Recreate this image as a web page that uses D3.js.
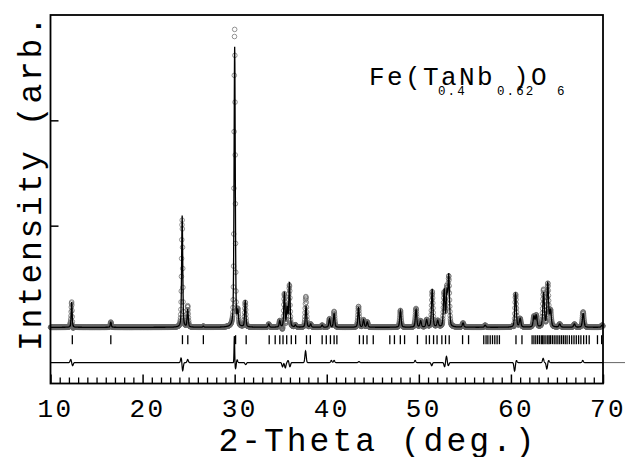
<!DOCTYPE html>
<html><head><meta charset="utf-8">
<script src="https://cdn.jsdelivr.net/npm/d3@7"></script>
<style>body{margin:0;background:#fff;overflow:hidden}</style>
</head><body><svg id="c" width="625" height="457"></svg>
<script>
// ---- data (2-theta in degrees, intensity in arbitrary units) ----
const peakPos    = [12.3, 16.55, 24.3, 24.9, 26.6, 30.0, 30.35, 31.15, 33.7, 34.9, 35.4, 35.7, 35.95, 36.6, 37.75, 38.25, 39.5, 40.3, 40.8, 43.45, 44.0, 44.4, 48.0, 49.7, 50.2, 50.85, 51.45, 52.05, 52.75, 53.05, 53.25, 54.8, 57.2, 60.5, 61.0, 62.5, 62.75, 63.55, 64.0, 64.3, 65.3, 66.9, 67.85, 69.9];
const peakHeight = [0.24, 0.05, 1.06, 0.17, 0.01, 2.66, 0.12, 0.25, 0.03, 0.06, 0.33, 0.18, 0.42, 0.02, 0.20, 0.03, 0.02, 0.08, 0.13, 0.19, 0.07, 0.05, 0.16, 0.17, 0.06, 0.07, 0.36, 0.06, 0.35, 0.30, 0.48, 0.04, 0.02, 0.33, 0.08, 0.10, 0.11, 0.32, 0.42, 0.15, 0.03, 0.03, 0.13, 0.02];
const background = 0.035;
const reflections = [12.37, 16.55, 24.33, 24.91, 26.6, 30.1, 31.25, 33.75, 34.4, 34.9, 35.25, 35.65, 36.15, 36.62, 37.8, 38.22, 39.5, 39.95, 40.4, 40.8, 41.1, 43.55, 43.97, 44.37, 45.05, 46.85, 47.35, 47.99, 48.45, 49.85, 50.8, 51.15, 51.6, 51.98, 52.5, 52.9, 53.3, 54.75, 55.4, 57.05, 57.3, 57.5, 57.75, 58.0, 58.25, 58.5, 58.75, 60.55, 61.2, 62.3, 62.5, 62.7, 62.9, 63.1, 63.3, 63.45, 63.6, 63.8, 64.0, 64.15, 64.3, 64.5, 64.7, 64.9, 65.1, 65.3, 65.5, 65.7, 65.9, 66.1, 66.35, 66.6, 66.85, 67.1, 67.35, 67.6, 67.9, 68.2, 68.5, 69.4, 69.85];
const diffPos   = [12.2, 12.4, 24.2, 24.35, 24.9, 29.97, 30.1, 30.25, 31.2, 35.2, 35.5, 35.8, 36.0, 37.7, 40.5, 40.8, 43.5, 49.6, 51.4, 52.8, 53.0, 53.2, 60.4, 60.6, 63.5, 63.9, 64.1, 67.8];
const diffAmp   = [0.03, -0.03, 0.05, -0.08, 0.03, 0.27, -0.06, 0.03, -0.02, -0.04, -0.05, 0.02, -0.04, 0.11, 0.02, 0.02, 0.01, 0.02, -0.03, -0.04, 0.06, -0.03, -0.08, 0.02, 0.04, -0.06, 0.02, 0.02];
const xTicks = [10, 20, 30, 40, 50, 60, 70];
const yTicks = [1, 2];
const formulaMain = "Fe(TaNb )O";
const formulaSubs = ["0.4", "0.62", "6"];

// ---- layout ----
const W = 625, H = 457;
const pLeft = 50.5, pRight = 603, pTop = 15, pBottom = 383.5;
const diffZero = -0.30;            // offset of difference curve (data units)
const refTop = -0.04, refBot = -0.125;
const mono = "'Liberation Mono','DejaVu Sans Mono',monospace";

const svg = d3.select("#c");
const x = d3.scaleLinear().domain([10, 70]).range([pLeft, pRight]);
const y = d3.scaleLinear().domain([0, 3]).range([331, pTop]);

function pv(t, p, h) {
  const w = 0.12 + 0.0015 * (p - 10), eta = 0.4;
  const d = (t - p) / (w / 2);
  const g = Math.exp(-Math.LN2 * d * d), l = 1 / (1 + d * d);
  return h * (eta * l + (1 - eta) * g);
}
const grid = d3.range(10, 70.0001, 0.02);
const calc = grid.map(t => {
  let s = background;
  for (let i = 0; i < peakPos.length; i++) s += pv(t, peakPos[i], peakHeight[i]);
  return s;
});
const diff = grid.map(t => {
  let s = 0;
  for (let i = 0; i < diffPos.length; i++) {
    const sig = diffPos[i] === 29.97 ? 0.035 : 0.07;
    const d = (t - diffPos[i]) / sig;
    s += diffAmp[i] * Math.exp(-0.5 * d * d);
  }
  return s;
});
const obs = calc.map((c, i) => c + diff[i]);

// observed points
svg.append("g").selectAll("circle").data(grid).join("circle")
  .attr("cx", d => x(d)).attr("cy", (d, i) => y(obs[i])).attr("r", 2.3)
  .attr("fill", "none").attr("stroke", "#666").attr("stroke-width", 0.7);

// calculated line
svg.append("path").datum(grid)
  .attr("d", d3.line().x(d => x(d)).y((d, i) => y(calc[i])))
  .attr("fill", "none").attr("stroke", "#000").attr("stroke-width", 1.3);

// reflection markers
svg.append("g").selectAll("line").data(reflections).join("line")
  .attr("x1", d => x(d)).attr("x2", d => x(d))
  .attr("y1", y(refTop)).attr("y2", y(refBot))
  .attr("stroke", "#000").attr("stroke-width", 1.3);

// difference curve
svg.append("path").datum(grid)
  .attr("d", d3.line().x(d => x(d)).y((d, i) => y(diffZero + diff[i])))
  .attr("fill", "none").attr("stroke", "#000").attr("stroke-width", 1.2);
svg.append("line").attr("x1", pRight).attr("x2", W)
  .attr("y1", y(diffZero)).attr("y2", y(diffZero))
  .attr("stroke", "#666").attr("stroke-width", 1);

// frame
svg.append("rect").attr("x", pLeft).attr("y", pTop)
  .attr("width", pRight - pLeft).attr("height", pBottom - pTop)
  .attr("fill", "none").attr("stroke", "#000").attr("stroke-width", 1.8);

// x ticks (pointing up from bottom frame)
const minor = d3.range(11, 70, 1).filter(v => v % 10 !== 0);
svg.append("g").attr("transform", `translate(0,${pBottom})`)
  .call(d3.axisTop(x).tickValues(xTicks).tickSize(9).tickFormat(""))
  .call(g => g.select(".domain").remove())
  .call(g => g.selectAll("line").attr("stroke-width", 1.5));
svg.append("g").attr("transform", `translate(0,${pBottom})`)
  .call(d3.axisTop(x).tickValues(minor).tickSize(6).tickFormat(""))
  .call(g => g.select(".domain").remove())
  .call(g => g.selectAll("line").attr("stroke-width", 1.3));
svg.append("g").selectAll("text").data(xTicks).join("text")
  .attr("x", d => x(d) + 5).attr("y", 417).attr("text-anchor", "middle")
  .attr("font-family", mono).attr("font-size", 26).attr("letter-spacing", 2.4)
  .attr("fill", "#000")
  .text(d => d);

// y ticks (pointing right from left frame)
svg.append("g").attr("transform", `translate(${pLeft},0)`)
  .call(d3.axisRight(y).tickValues(yTicks).tickSize(8).tickFormat(""))
  .call(g => g.select(".domain").remove())
  .call(g => g.selectAll("line").attr("stroke-width", 1.5));

// axis titles
svg.append("text").attr("x", 378).attr("y", 451).attr("text-anchor", "middle")
  .attr("font-family", mono).attr("font-size", 33).attr("letter-spacing", 3)
  .attr("fill", "#000")
  .text("2-Theta (deg.)");
svg.append("text").attr("transform", "translate(41,351) rotate(-90)")
  .attr("text-anchor", "start")
  .attr("font-family", mono).attr("font-size", 33).attr("letter-spacing", 2.7)
  .attr("fill", "#000")
  .text("Intensity (arb. units)");

// formula label
svg.append("text").attr("x", 369).attr("y", 85)
  .attr("font-family", mono).attr("font-size", 26).attr("letter-spacing", 2.4)
  .attr("fill", "#000")
  .attr("xml:space", "preserve").style("white-space", "pre")
  .text(formulaMain);
const subX = [438, 497, 557];
svg.append("g").selectAll("text").data(formulaSubs).join("text")
  .attr("x", (d, i) => subX[i]).attr("y", 95)
  .attr("font-family", mono).attr("font-size", 12.5).attr("letter-spacing", 2.1)
  .attr("fill", "#000")
  .text(d => d);
</script></body></html>
